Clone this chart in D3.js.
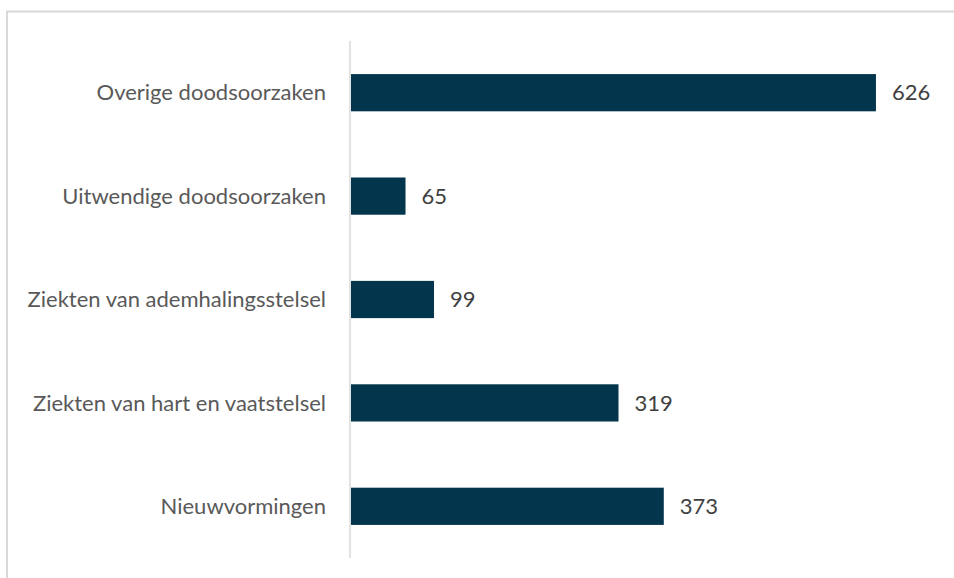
<!DOCTYPE html>
<html>
<head>
<meta charset="utf-8">
<script src="https://cdn.jsdelivr.net/npm/d3@7"></script>
<style>
  body { margin: 0; background: #fff; }
  svg { display: block; }
  .cat { font-family: Lato, sans-serif; font-size: 22px; fill: #595959; }
  .val { font-family: Lato, sans-serif; font-size: 22px; fill: #404040; }
</style>
</head>
<body>
<div class="chart"></div>
<script>
// data, top to bottom
var categories = ["Overige doodsoorzaken", "Uitwendige doodsoorzaken", "Ziekten van ademhalingsstelsel",
                  "Ziekten van hart en vaatstelsel", "Nieuwvormingen"];
var values = [626, 65, 99, 319, 373];

var W = 954, H = 578;
var x0 = 351, x1 = 938, yTop = 41, yBot = 558;

var svg = d3.select(".chart").append("svg")
    .attr("width", W)
    .attr("height", H);

// chart frame (only top and left edges show)
svg.append("path")
    .attr("d", "M7,578V11.5H954")
    .attr("fill", "none")
    .attr("stroke", "#d9d9d9")
    .attr("stroke-width", 2);

var x = d3.scaleLinear().domain([0, 700]).range([x0, x1]);
var y = d3.scaleBand().domain(categories).range([yTop, yBot]).paddingInner(0.64).paddingOuter(0.32);

svg.selectAll("rect.bar")
    .data(values)
    .enter().append("rect")
    .attr("class", "bar")
    .attr("x", x(0))
    .attr("y", function(d, i) { return y(categories[i]); })
    .attr("width", function(d) { return x(d) - x(0); })
    .attr("height", y.bandwidth())
    .attr("fill", "#03354c");

// axis line
svg.append("line")
    .attr("x1", x0 - 1).attr("x2", x0 - 1)
    .attr("y1", yTop).attr("y2", yBot)
    .attr("stroke", "#d9d9d9")
    .attr("stroke-width", 1.5);

svg.selectAll("text.cat")
    .data(categories)
    .enter().append("text")
    .attr("class", "cat")
    .attr("x", x0 - 25)
    .attr("y", function(d) { return y(d) + y.bandwidth() / 2; })
    .attr("dy", "0.35em")
    .attr("text-anchor", "end")
    .text(function(d) { return d; });

svg.selectAll("text.val")
    .data(values)
    .enter().append("text")
    .attr("class", "val")
    .attr("x", function(d) { return x(d) + 16; })
    .attr("y", function(d, i) { return y(categories[i]) + y.bandwidth() / 2; })
    .attr("dy", "0.35em")
    .text(function(d) { return d; });
</script>
</body>
</html>
